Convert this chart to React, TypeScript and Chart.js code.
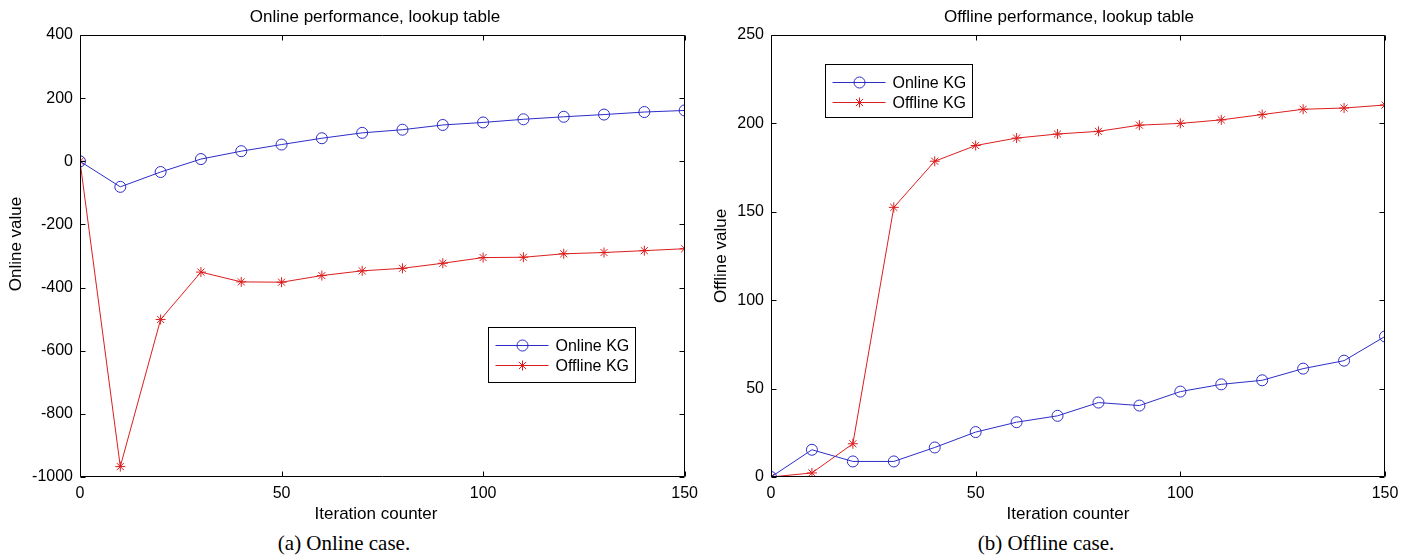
import React, { useEffect, useRef } from "react";
import { Chart, registerables } from "chart.js";

Chart.register(...registerables);

// ---------- data ----------
const iterations = [0, 10, 20, 30, 40, 50, 60, 70, 80, 90, 100, 110, 120, 130, 140, 150];
const seriesNames = ["Online KG", "Offline KG"];

// (a) Online case
const onlineCaseOnlineKG = [0, -81, -34, 7, 32, 53, 73, 90, 100, 115, 123, 133, 141, 148, 156, 161];
const onlineCaseOfflineKG = [0, -967, -501, -351, -382, -383, -362, -347, -339, -323, -305, -304, -293, -289, -283, -277];

// (b) Offline case
const offlineCaseOnlineKG = [0, 15.4, 8.8, 8.8, 16.7, 25.4, 31, 34.6, 42.1, 40.4, 48.3, 52.4, 54.7, 61.3, 65.8, 79.5];
const offlineCaseOfflineKG = [0, 2.3, 18.8, 152.5, 178.6, 187.5, 191.7, 194, 195.5, 199, 200, 202, 205, 208, 208.7, 210.4];

const xTickValues = [0, 50, 100, 150];
const onlineYTicks = [-1000, -800, -600, -400, -200, 0, 200, 400];
const offlineYTicks = [0, 50, 100, 150, 200, 250];

const titles = ["Online performance, lookup table", "Offline performance, lookup table"];
const yLabels = ["Online value", "Offline value"];
const xLabel = "Iteration counter";
const captions = ["(a) Online case.", "(b) Offline case."];

const BLUE = "rgb(45,45,200)";
const RED = "rgb(220,30,30)";
const FONT = "'Liberation Sans', Arial, sans-serif";

// ---------- helpers ----------
function drawMarker(ctx: CanvasRenderingContext2D, kind: string, x: number, y: number, color: string) {
  ctx.save();
  ctx.strokeStyle = color;
  ctx.lineWidth = 1;
  ctx.beginPath();
  if (kind === "circle") {
    ctx.arc(x, y, 5.5, 0, Math.PI * 2);
  } else {
    const r = 5;
    ctx.moveTo(x - r, y); ctx.lineTo(x + r, y);
    ctx.moveTo(x, y - r); ctx.lineTo(x, y + r);
    const d = r * 0.72;
    ctx.moveTo(x - d, y - d); ctx.lineTo(x + d, y + d);
    ctx.moveTo(x - d, y + d); ctx.lineTo(x + d, y - d);
  }
  ctx.stroke();
  ctx.restore();
}

const framePlugin = {
  id: "matlabFrame",
  afterDatasetsDraw(chart: any) {
    const { ctx, chartArea: a, scales } = chart;
    const L = Math.round(a.left) + 0.5;
    const R = Math.round(a.right) - 0.5;
    const T = Math.round(a.top) + 0.5;
    const B = Math.round(a.bottom) - 0.5;
    ctx.save();
    ctx.strokeStyle = "#000";
    ctx.lineWidth = 1;
    ctx.beginPath();
    ctx.rect(L, T, R - L, B - T);
    const tl = 5;
    scales.x.ticks.forEach((t: any) => {
      const px = Math.round(scales.x.getPixelForValue(t.value)) + 0.5;
      ctx.moveTo(px, B); ctx.lineTo(px, B - tl);
      ctx.moveTo(px, T); ctx.lineTo(px, T + tl);
    });
    scales.y.ticks.forEach((t: any) => {
      const py = Math.round(scales.y.getPixelForValue(t.value)) + 0.5;
      ctx.moveTo(L, py); ctx.lineTo(L + tl, py);
      ctx.moveTo(R, py); ctx.lineTo(R - tl, py);
    });
    ctx.stroke();
    ctx.restore();
  },
};

const boxLegendPlugin = {
  id: "boxLegend",
  afterDraw(chart: any, _args: any, opts: any) {
    const { ctx, chartArea: a } = chart;
    const x = Math.round(a.left + opts.x) + 0.5;
    const y = Math.round(a.top + opts.y) + 0.5;
    const w = opts.w;
    const h = opts.h;
    ctx.save();
    ctx.fillStyle = "#fff";
    ctx.fillRect(x, y, w, h);
    ctx.strokeStyle = "#000";
    ctx.lineWidth = 1;
    ctx.strokeRect(x, y, w, h);
    const items = chart.data.datasets;
    items.forEach((ds: any, i: number) => {
      const cy = Math.round(y + 17 + i * 20) + 0.5;
      ctx.strokeStyle = ds.borderColor;
      ctx.beginPath();
      ctx.moveTo(x + 7, cy);
      ctx.lineTo(x + 60, cy);
      ctx.stroke();
      drawMarker(ctx, ds.pointStyle === "circle" ? "circle" : "star", x + 34, cy, ds.borderColor);
      ctx.fillStyle = "#000";
      ctx.font = `16px ${FONT}`;
      ctx.textBaseline = "middle";
      ctx.textAlign = "left";
      ctx.fillText(ds.label, x + 67, cy + 1);
    });
    ctx.restore();
  },
};

// Title and axis titles placed like the MATLAB figure
const labelsPlugin = {
  id: "figLabels",
  afterDraw(chart: any, _args: any, opts: any) {
    const { ctx } = chart;
    ctx.save();
    ctx.fillStyle = "#000";
    ctx.textAlign = "center";
    ctx.textBaseline = "middle";
    ctx.font = `17px ${FONT}`;
    ctx.fillText(opts.title, opts.titleX, opts.titleY);
    ctx.fillText(opts.xLabel, opts.xLabelX, opts.xLabelY);
    ctx.translate(opts.yLabelX, opts.yLabelY);
    ctx.rotate(-Math.PI / 2);
    ctx.fillText(opts.yLabel, 0, 0);
    ctx.restore();
  },
};

type PanelProps = {
  left: number;
  width: number;
  axisWidth: number;
  padRight: number;
  title: string;
  yLabel: string;
  yTicks: number[];
  online: number[];
  offline: number[];
  legend: { x: number; y: number; w: number; h: number };
  labels: { titleX: number; titleY: number; xLabelX: number; xLabelY: number; yLabelX: number; yLabelY: number };
};

function Panel(p: PanelProps) {
  const ref = useRef<HTMLCanvasElement>(null);
  useEffect(() => {
    if (!ref.current) return;
    const mk = (vals: number[]) => iterations.map((x, i) => ({ x, y: vals[i] }));
    const chart = new Chart(ref.current, {
      type: "line",
      data: {
        datasets: [
          {
            label: seriesNames[0],
            data: mk(p.online),
            borderColor: BLUE,
            backgroundColor: "rgba(0,0,0,0)",
            borderWidth: 1,
            pointStyle: "circle",
            pointRadius: 5.5,
            pointBorderWidth: 1,
            pointBorderColor: BLUE,
            pointBackgroundColor: "rgba(0,0,0,0)",
            tension: 0,
          },
          {
            label: seriesNames[1],
            data: mk(p.offline),
            borderColor: RED,
            backgroundColor: "rgba(0,0,0,0)",
            borderWidth: 1,
            pointStyle: "star",
            pointRadius: 5,
            pointBorderWidth: 1,
            pointBorderColor: RED,
            pointBackgroundColor: RED,
            tension: 0,
          },
        ],
      },
      options: {
        animation: false,
        responsive: false,
        events: [],
        layout: { padding: { left: 0, right: p.padRight, top: 35, bottom: 0 } },
        plugins: {
          legend: { display: false },
          tooltip: { enabled: false },
          title: { display: false },
          boxLegend: p.legend,
          figLabels: { title: p.title, xLabel, yLabel: p.yLabel, ...p.labels },
        } as any,
        scales: {
          x: {
            type: "linear",
            min: 0,
            max: 150,
            afterBuildTicks: (s: any) => {
              s.ticks = xTickValues.map((v) => ({ value: v }));
            },
            afterFit: (s: any) => {
              s.height = 53;
            },
            grid: { display: false, drawTicks: false },
            border: { display: false },
            ticks: {
              color: "#000",
              font: { family: FONT, size: 16 },
              padding: 7,
              maxRotation: 0,
              callback: (v: any) => String(v),
            },
          },
          y: {
            type: "linear",
            min: p.yTicks[0],
            max: p.yTicks[p.yTicks.length - 1],
            afterBuildTicks: (s: any) => {
              s.ticks = p.yTicks.map((v) => ({ value: v }));
            },
            afterFit: (s: any) => {
              s.width = p.axisWidth;
            },
            grid: { display: false, drawTicks: false },
            border: { display: false },
            ticks: {
              color: "#000",
              font: { family: FONT, size: 16 },
              padding: 7,
              callback: (v: any) => String(v),
            },
          },
        },
      },
      plugins: [framePlugin, boxLegendPlugin, labelsPlugin],
    });
    return () => chart.destroy();
  }, []);
  return (
    <canvas
      ref={ref}
      width={p.width}
      height={530}
      style={{ position: "absolute", left: p.left, top: 0, width: p.width, height: 530 }}
    />
  );
}

const captionStyle: React.CSSProperties = {
  position: "absolute",
  top: 531,
  width: 300,
  textAlign: "center",
  fontFamily: "'Liberation Serif', 'Times New Roman', serif",
  fontSize: 21,
  color: "#000",
  whiteSpace: "nowrap",
};

export default function App() {
  return (
    <div style={{ position: "fixed", left: 0, top: 0, width: 1411, height: 560, background: "#fff", overflow: "hidden" }}>
      <Panel
        left={0}
        width={705}
        axisWidth={80}
        padRight={17}
        title={titles[0]}
        yLabel={yLabels[0]}
        yTicks={onlineYTicks}
        online={onlineCaseOnlineKG}
        offline={onlineCaseOfflineKG}
        legend={{ x: 408, y: 292, w: 147, h: 55 }}
        labels={{ titleX: 375, titleY: 17, xLabelX: 376, xLabelY: 514, yLabelX: 16, yLabelY: 244 }}
      />
      <Panel
        left={705}
        width={706}
        axisWidth={66}
        padRight={26}
        title={titles[1]}
        yLabel={yLabels[1]}
        yTicks={offlineYTicks}
        online={offlineCaseOnlineKG}
        offline={offlineCaseOfflineKG}
        legend={{ x: 54, y: 29, w: 147, h: 53 }}
        labels={{ titleX: 1069 - 705, titleY: 17, xLabelX: 1068 - 705, xLabelY: 514, yLabelX: 721 - 705, yLabelY: 256 }}
      />
      <div style={{ ...captionStyle, left: 344 - 150 }}>{captions[0]}</div>
      <div style={{ ...captionStyle, left: 1046 - 150 }}>{captions[1]}</div>
    </div>
  );
}
